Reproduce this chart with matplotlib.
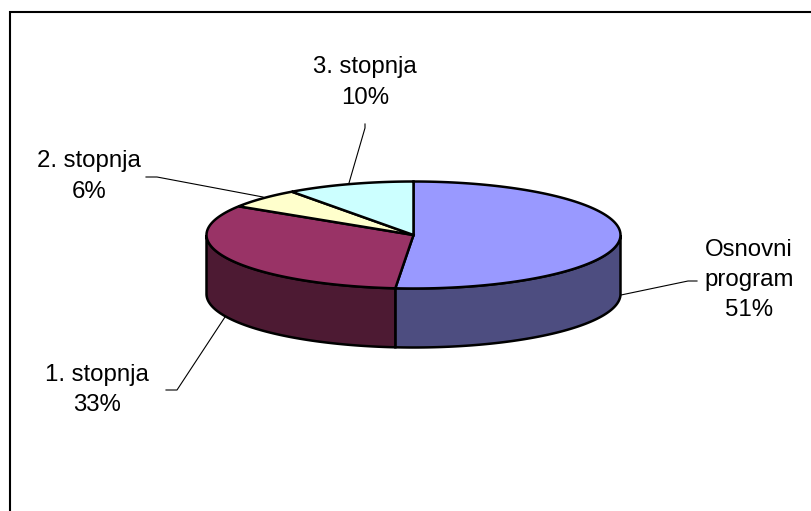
import numpy as np
import matplotlib
matplotlib.use("Agg")
import matplotlib.pyplot as plt
from matplotlib.patches import Polygon

plt.rcParams['font.family'] = ['Liberation Sans', 'DejaVu Sans']

# shares, clockwise from 12 o'clock
names = ['Osnovni\nprogram', '1. stopnja', '2. stopnja', '3. stopnja']
shares = [51.4, 32.6, 6.0, 10.0]
percent_labels = ['51%', '33%', '6%', '10%']
top_colors = ['#9999FF', '#993366', '#FFFFCC', '#CCFFFF']
side_colors = ['#4D4D80', '#4D1A33', '#80805F', '#668080']

# pie geometry in pixels
cx, cy = 413.5, 235
rx, ry = 207, 53.5
depth = 59
lw = 1.8


def rim(a1, a2):
    t = np.radians(np.linspace(a1, a2, 120))
    return cx + rx*np.sin(t), cy - ry*np.cos(t)


fig = plt.figure(figsize=(8.11, 5.11), dpi=100)
ax = fig.add_axes([0, 0, 1, 1])
ax.set_xlim(0, 811)
ax.set_ylim(511, 0)
ax.axis('off')

# border only shows on the left and top
ax.plot([10.3, 10.3, 811], [511, 12, 12], color='k', lw=1.5, solid_joinstyle='miter')

edges = 3.6*np.cumsum([0] + shares)

# side walls, only the front half of the rim can be seen
for i in range(len(shares)):
    a1, a2 = max(edges[i], 90), min(edges[i+1], 270)
    if a1 < a2:
        x, y = rim(a1, a2)
        pts = np.r_[np.c_[x, y], np.c_[x[::-1], y[::-1] + depth]]
        ax.add_patch(Polygon(pts, facecolor=side_colors[i], edgecolor='k', lw=lw, zorder=2))

# top slices
for i in range(len(shares)):
    x, y = rim(edges[i], edges[i+1])
    pts = np.r_[[[cx, cy]], np.c_[x, y]]
    ax.add_patch(Polygon(pts, facecolor=top_colors[i], edgecolor='k', lw=lw, zorder=3))

# leader lines
leaders = [
    ([697, 688, 621], [281, 281, 295]),
    ([166, 177, 225], [390, 390, 317]),
    ([146, 157, 263], [177, 177, 197]),
    ([365, 365, 349], [124, 128, 183]),
]
for lx, ly in leaders:
    ax.plot(lx, ly, color='k', lw=0.8, zorder=1)

# labels
label_x = [749, 97, 89, 365]
label_y = [280, 390, 176.5, 82.5]
for i in range(len(names)):
    ax.text(label_x[i], label_y[i], names[i] + '\n' + percent_labels[i], ha='center', va='center',
            fontsize=17.3, linespacing=1.5, color='k')

fig.savefig('out.png', dpi=100)
